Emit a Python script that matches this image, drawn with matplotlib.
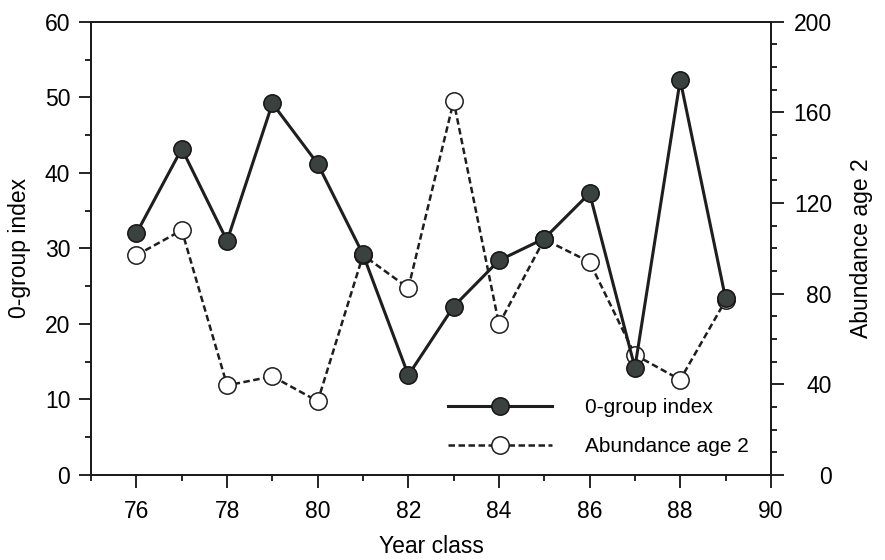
import matplotlib.pyplot as plt
from matplotlib.ticker import MultipleLocator

plt.rcParams["font.family"] = ["Liberation Sans", "DejaVu Sans"]

# Year classes and the two series
years = [76, 77, 78, 79, 80, 81, 82, 83, 84, 85, 86, 87, 88, 89]
group0_index = [32, 43.2, 31, 49.2, 41.2, 29.2, 13.2, 22.3, 28.4, 31.3, 37.3, 14.2, 52.3, 23.4]
abundance_age2 = [97, 108, 39.5, 43.5, 32.5, 97, 82.5, 165, 66.5, 104, 94, 53, 42, 77]

fig = plt.figure(figsize=(8.85, 5.6), dpi=100)
ax = fig.add_axes([0.103, 0.152, 0.768, 0.809])
ax2 = ax.twinx()

ax2.plot(years, abundance_age2, color="#1e1e1e", lw=1.8, dashes=(2.6, 1.4),
         marker="o", ms=12.5, mfc="white", mec="#1e1e1e", mew=1.1,
         label="Abundance age 2")
ax.plot(years, group0_index, color="#1e1e1e", lw=2.2,
        marker="o", ms=12.5, mfc="#3b413e", mec="#151515", mew=1.1,
        label="0-group index")

# keep the filled series above the dashed one
ax.set_zorder(ax2.get_zorder() + 1)
ax.patch.set_visible(False)

ax.set_xlim(75, 90)
ax.set_ylim(0, 60)
ax2.set_ylim(0, 200)

ax.xaxis.set_major_locator(MultipleLocator(2))
ax.xaxis.set_minor_locator(MultipleLocator(1))
ax.yaxis.set_major_locator(MultipleLocator(10))
ax.yaxis.set_minor_locator(MultipleLocator(5))
ax2.yaxis.set_major_locator(MultipleLocator(40))
ax2.yaxis.set_minor_locator(MultipleLocator(10))

fs = 16.5
ax.tick_params(which="major", direction="out", length=9, width=1.2,
               labelsize=fs, pad=6)
ax.tick_params(which="minor", direction="out", length=4, width=1.2)
ax.tick_params(axis="x", which="major", pad=9)
ax2.tick_params(which="major", direction="out", length=9, width=1.2,
                labelsize=fs, pad=35)
ax2.tick_params(which="minor", direction="out", length=4, width=1.2)
for lab in ax2.get_yticklabels():
    lab.set_horizontalalignment("right")

for a in (ax, ax2):
    for sp in a.spines.values():
        sp.set_linewidth(1.3)
        sp.set_color("#1a1a1a")

ax.set_xlabel("Year class", fontsize=fs, labelpad=9)
ax.set_ylabel("0-group index", fontsize=fs, labelpad=10)
ax2.set_ylabel("Abundance age 2", fontsize=fs, labelpad=13)

h1, l1 = ax.get_legend_handles_labels()
h2, l2 = ax2.get_legend_handles_labels()
ax.legend(h1 + h2, l1 + l2, frameon=False, fontsize=15,
          loc="center left", bbox_to_anchor=(0.525, 0.105),
          handlelength=5.0, handletextpad=1.6, labelspacing=0.95,
          borderpad=0, borderaxespad=0)

fig.savefig("out.png", dpi=100)
